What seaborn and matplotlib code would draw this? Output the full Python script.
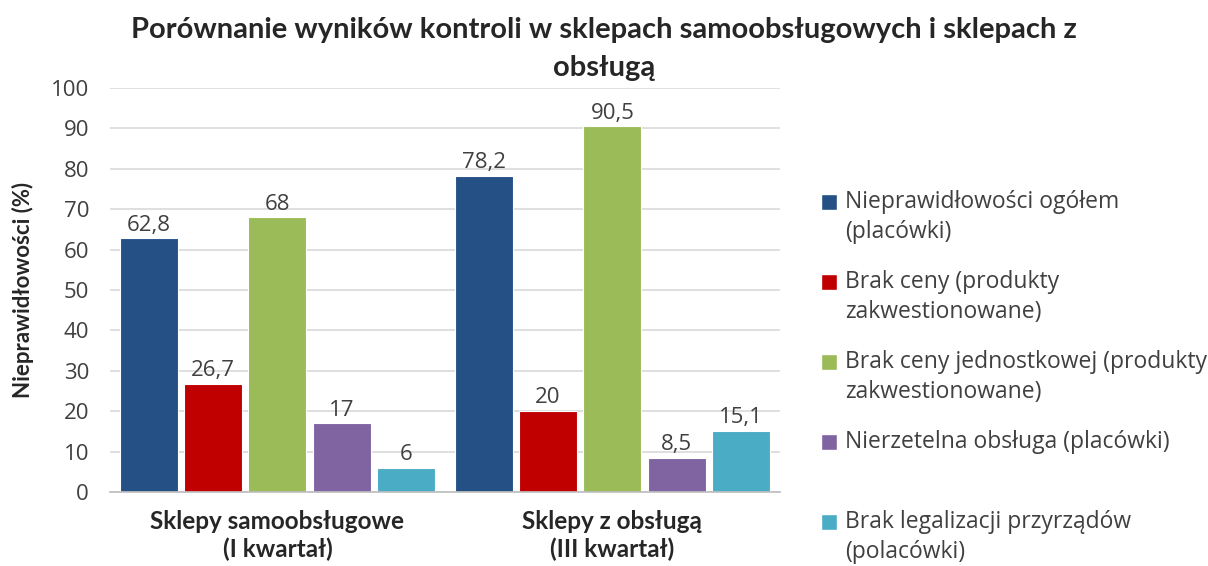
import matplotlib
matplotlib.use("Agg")
import matplotlib.pyplot as plt
import matplotlib.patches as mpatches
from matplotlib.legend_handler import HandlerPatch
import seaborn as sns
import pandas as pd

# data
groups = ["Sklepy samoobsługowe\n(I kwartał)", "Sklepy z obsługą\n(III kwartał)"]
series = [
    "Nieprawidłowości ogółem\n(placówki)",
    "Brak ceny (produkty\nzakwestionowane)",
    "Brak ceny jednostkowej (produkty\nzakwestionowane)",
    "Nierzetelna obsługa (placówki)\n ",
    "Brak legalizacji przyrządów\n(polacówki)",
]
values_g1 = [62.8, 26.7, 68, 17, 6]
values_g2 = [78.2, 20, 90.5, 8.5, 15.1]
colors = ["#245086", "#C00000", "#9BBB59", "#8064A2", "#4BACC6"]

rows = []
for s, v1, v2 in zip(series, values_g1, values_g2):
    rows.append({"grupa": groups[0], "seria": s, "wartosc": v1})
    rows.append({"grupa": groups[1], "seria": s, "wartosc": v2})
df = pd.DataFrame(rows)

sns.set_theme(style="white")
plt.rcParams["font.family"] = ["Open Sans", "DejaVu Sans"]
bold_font = ["Lato", "DejaVu Sans"]

fig = plt.figure(figsize=(12.08, 5.66), dpi=100)
ax = fig.add_axes([0.091, 0.1307, 0.5546, 0.7138])

sns.barplot(data=df, x="grupa", y="wartosc", hue="seria", hue_order=series,
            palette=colors, width=0.96, gap=0.1, ax=ax, edgecolor="white",
            linewidth=0.8, saturation=1)

ax.set_ylim(0, 100)
ax.set_yticks(range(0, 101, 10))
ax.yaxis.grid(True, color="#D9D9D9", linewidth=1.2)
ax.set_axisbelow(True)
for side in ["left", "right", "top"]:
    ax.spines[side].set_visible(False)
ax.spines["bottom"].set_color("#BFBFBF")
ax.tick_params(axis="y", labelsize=16, labelcolor="#404040", length=0, pad=15)
ax.tick_params(axis="x", labelsize=17.5, length=0, pad=13)
for lab in ax.get_xticklabels():
    lab.set_fontweight("bold")
    lab.set_family(bold_font)
    lab.set_linespacing(1.22)

ax.set_xlabel("")
ax.set_ylabel("Nieprawidłowości (%)", fontsize=16, fontweight="bold",
              family=bold_font, labelpad=12)


def fmt(v):
    if float(v).is_integer():
        return str(int(v))
    return f"{v:.1f}".replace(".", ",")


for cont in ax.containers:
    ax.bar_label(cont, labels=[fmt(b.get_height()) for b in cont],
                 padding=2, fontsize=16, color="#404040")

fig.suptitle("Porównanie wyników kontroli w sklepach samoobsługowych i sklepach z\nobsługą",
             fontsize=21, fontweight="bold", family=bold_font, y=0.97,
             linespacing=1.55)


def top_square(legend, orig_handle, xdescent, ydescent, width, height, fontsize):
    return mpatches.Rectangle((-xdescent, -ydescent + 0.68 * fontsize), width, height)


handles = [mpatches.Patch(facecolor=c) for c in colors]
leg = ax.legend(handles, series, loc="upper left", bbox_to_anchor=(1.03, 0.798),
                frameon=False, fontsize=16.5, handlelength=0.7, handleheight=0.7,
                handletextpad=0.35, labelspacing=1.16,
                handler_map={mpatches.Patch: HandlerPatch(patch_func=top_square)})
for t in leg.get_texts():
    t.set_linespacing(1.3)
    t.set_color("#404040")

fig.savefig("out.png", dpi=100)
